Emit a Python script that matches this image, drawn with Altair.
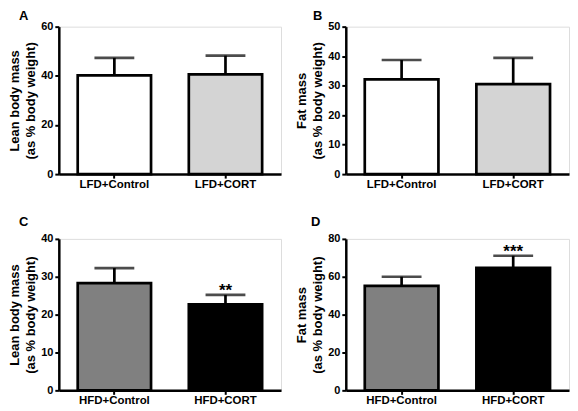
import altair as alt
import pandas as pd

FONT = "Liberation Sans"

lfd_cats = ["LFD+Control", "LFD+CORT"]
hfd_cats = ["HFD+Control", "HFD+CORT"]

lean_lfd_mean = [40.2, 40.6]
lean_lfd_err = [7.1, 7.6]
fat_lfd_mean = [32.1, 30.5]
fat_lfd_err = [6.6, 8.9]
lean_hfd_mean = [28.3, 22.7]
lean_hfd_err = [4.0, 2.5]
fat_hfd_mean = [55.2, 64.7]
fat_hfd_err = [4.8, 6.4]

lfd_colors = ["#ffffff", "#d4d4d4"]
hfd_colors = ["#808080", "#000000"]

lean_title = ["Lean body mass", "(as % body weight)"]
fat_title = ["Fat mass", "(as % body weight)"]


def panel(label, cats, means, errs, colors, ytitle, ymax, step, stars, w, h, lx, ly):
    df = pd.DataFrame({
        "cat": cats,
        "mean": means,
        "upper": [m + e for m, e in zip(means, errs)],
        "star": stars,
        "fill": colors,
    })
    xaxis = alt.Axis(title=None, labelAngle=0, labelFont=FONT, labelFontSize=11.5,
                     labelFontWeight="bold", labelColor="black", domainColor="black",
                     domainWidth=2.5, tickColor="black", tickWidth=2, tickSize=4,
                     labelPadding=0)
    xscale = alt.Scale(domain=cats, paddingInner=0.34, paddingOuter=0.17)
    yscale = alt.Scale(domain=[0, ymax], nice=False)
    yaxis = alt.Axis(title=ytitle, values=list(range(0, ymax + 1, step)), grid=False,
                     labelFont=FONT, labelFontSize=11, labelFontWeight="bold",
                     labelColor="black", titleFont=FONT, titleFontSize=13,
                     titleFontWeight="bold", titleColor="black", titleLineHeight=16,
                     titlePadding=3, domainColor="black", domainWidth=2.5,
                     tickColor="black", tickWidth=2, tickSize=4, labelPadding=2)

    def X():
        return alt.X("cat:N", sort=cats, scale=xscale, axis=xaxis)

    base = alt.Chart(df)
    bars = base.mark_bar(stroke="black", strokeWidth=2.7).encode(
        x=X(),
        y=alt.Y("mean:Q", scale=yscale, axis=yaxis),
        color=alt.Color("fill:N", scale=None),
    )
    whisk = base.mark_rule(color="black", strokeWidth=2.7).encode(
        x=X(), y=alt.Y("mean:Q", scale=yscale, axis=yaxis), y2="upper:Q")
    cap = base.mark_tick(color="black", size=40, thickness=2.7).encode(
        x=X(), y=alt.Y("upper:Q", scale=yscale, axis=yaxis))
    txt = base.mark_text(font=FONT, fontSize=17, fontWeight="bold", baseline="alphabetic",
                         dy=1, color="black").encode(
        x=X(), y=alt.Y("upper:Q", scale=yscale, axis=yaxis), text="star:N")
    lab = alt.Chart(pd.DataFrame({"t": [label]})).mark_text(
        font=FONT, fontSize=13, fontWeight="bold", baseline="top", align="left",
        color="black").encode(text="t:N", x=alt.value(lx), y=alt.value(ly))
    return alt.layer(bars, whisk, cap, txt, lab).properties(width=w, height=h)


A = panel("A", lfd_cats, lean_lfd_mean, lean_lfd_err, lfd_colors, lean_title, 60, 20, ["", ""], 223, 148, -40, -17)
B = panel("B", lfd_cats, fat_lfd_mean, fat_lfd_err, lfd_colors, fat_title, 50, 10, ["", ""], 224, 148, -33, -17)
C = panel("C", hfd_cats, lean_hfd_mean, lean_hfd_err, hfd_colors, lean_title, 40, 10, ["", "**"], 223, 152, -40, -23)
D = panel("D", hfd_cats, fat_hfd_mean, fat_hfd_err, hfd_colors, fat_title, 80, 20, ["", "***"], 224, 152, -35, -23)

chart = alt.vconcat(
    alt.hconcat(A, B, spacing=13),
    alt.hconcat(C, D, spacing=13),
    spacing=25,
).configure_view(stroke=None).configure(background="white", padding=0)

chart.save("out.html", embed_options={"renderer": "svg", "actions": False})
